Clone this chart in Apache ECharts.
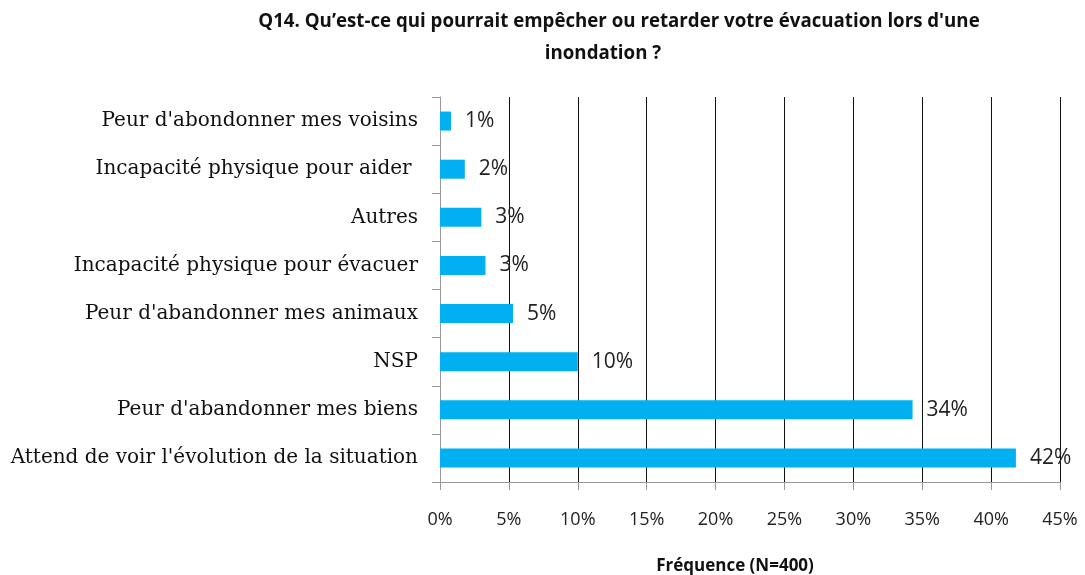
<!DOCTYPE html>
<html lang="fr">
<head>
    <meta charset="UTF-8">
    <title>Q14</title>
    <style>
        html, body {margin: 0; padding: 0; background: #fff;}
    </style>
</head>
<body>
<div id="main" style="width: 1085px;height: 575px"></div>
<script src="https://cdn.jsdelivr.net/npm/echarts@6/dist/echarts.min.js"></script>
<script>
    // données (de haut en bas)
    let categories = [
        "Peur d'abondonner mes voisins",
        'Incapacité physique pour aider ',
        'Autres',
        'Incapacité physique pour évacuer',
        "Peur d'abandonner mes animaux",
        'NSP',
        "Peur d'abandonner mes biens",
        "Attend de voir l'évolution de la situation"
    ]
    let values = [0.8, 1.8, 3.0, 3.3, 5.3, 10.0, 34.3, 41.8]
    let xTicks = [0, 5, 10, 15, 20, 25, 30, 35, 40, 45]
    let titleLines = [
        "Q14. Qu’est-ce qui pourrait empêcher ou retarder votre évacuation lors d'une",
        'inondation ?'
    ]

    let titleStyle = {
        fontFamily: 'Open Sans',
        fontWeight: 'bold',
        fontSize: 18.7,
        color: '#111'
    }

    let chart = echarts.init(document.getElementById('main'))
    let option = {
        animation: false,
        title: [
            {text: titleLines[0], left: 614, top: 7, textAlign: 'center', textStyle: titleStyle},
            {text: titleLines[1], left: 598, top: 39, textAlign: 'center', textStyle: titleStyle}
        ],
        grid: {
            left: 440,
            right: 25,
            top: 97,
            bottom: 93,
            containLabel: false,
            outerBoundsMode: 'none'
        },
        xAxis: {
            type: 'value',
            min: xTicks[0],
            max: xTicks[xTicks.length - 1],
            interval: 5,
            name: 'Fréquence (N=400)',
            nameLocation: 'middle',
            nameGap: 76,
            nameTextStyle: {
                fontFamily: 'Open Sans',
                fontWeight: 'bold',
                fontSize: 17,
                color: '#111',
                padding: [0, 30, 0, 0]
            },
            axisLine: {show: true, lineStyle: {color: '#999'}},
            axisTick: {show: true, length: 8, lineStyle: {color: '#999'}},
            axisLabel: {
                formatter: '{value}%',
                margin: 29,
                fontFamily: 'Open Sans',
                fontSize: 18,
                color: '#222'
            },
            splitLine: {show: true, lineStyle: {color: '#111', width: 1}}
        },
        yAxis: {
            type: 'category',
            inverse: true,
            data: categories,
            axisLine: {show: true, lineStyle: {color: '#999'}},
            axisTick: {show: true, length: 8, lineStyle: {color: '#999'}},
            axisLabel: {
                margin: 22,
                fontFamily: 'DejaVu Serif',
                fontSize: 20,
                color: '#111'
            }
        },
        series: [{
            type: 'bar',
            data: values,
            barWidth: 19,
            itemStyle: {color: '#00B0F0'},
            label: {
                show: true,
                position: 'right',
                distance: 14,
                formatter: p => Math.round(p.value) + '%',
                fontFamily: 'Open Sans',
                fontSize: 21,
                color: '#222'
            }
        }]
    }
    chart.setOption(option)
</script>
</body>
</html>
